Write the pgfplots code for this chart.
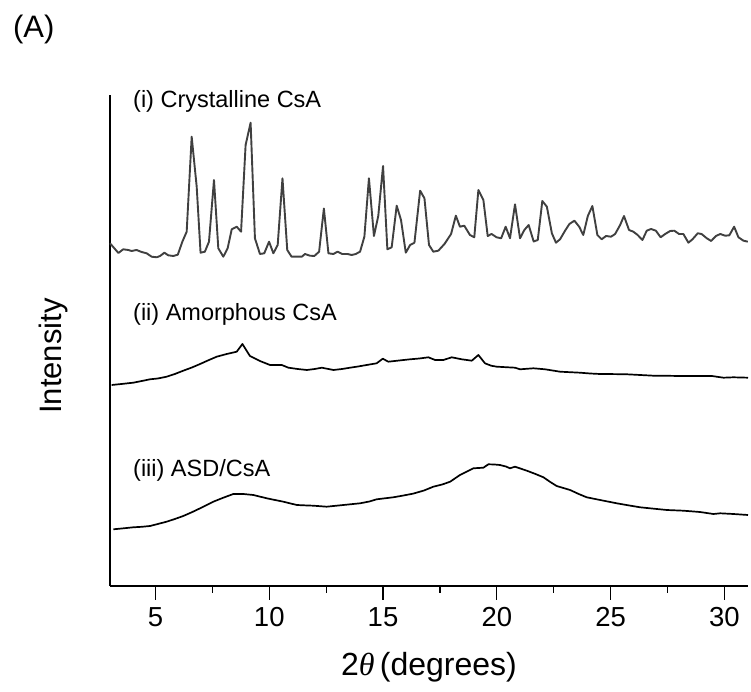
\documentclass[border=0pt]{standalone}
\usepackage{pgfplots}
\pgfplotsset{compat=1.18}
\usepackage{fontspec}
\setmainfont{Liberation Sans}
\newfontfamily\thetafont{Liberation Serif}
\begin{document}
\begin{tikzpicture}[x=1pt,y=1pt]
\useasboundingbox (-110,-106) rectangle (641,586);
\begin{axis}[
  at={(0,0)}, anchor=south west,
  scale only axis, width=638pt, height=491pt,
  xmin=3, xmax=31.04, ymin=0, ymax=491,
  axis x line*=bottom, axis y line*=left,
  axis line style={-, line width=1.3pt, black},
  xtick={5,10,15,20,25,30},
  minor x tick num=1,
  ytick=\empty,
  tick align=outside,
  major tick length=14pt, minor tick length=7pt,
  every tick/.style={line width=1.3pt, black},
  tick label style={font=\fontsize{27.5}{32}\selectfont},
  xticklabel style={yshift=-4pt},
  /pgf/number format/assume math mode=true,
  clip=false,
]
\addplot[line width=1.9pt, color=black!75, line join=round] coordinates {
(3.00,342.7)(3.37,333)(3.58,336.7)(3.80,336)(3.95,335)(4.17,336)(4.39,334)(4.61,332.7)
(4.83,329.3)(5.05,328.7)(5.20,330)(5.39,333.3)(5.56,330.7)(5.78,330)(5.98,331.3)(6.18,344.3)
(6.37,354.3)(6.59,449.3)(6.81,399.3)(6.98,333.3)(7.17,334.3)(7.35,344.3)(7.57,406)(7.76,337.7)
(7.98,329.3)(8.17,337.7)(8.35,356.7)(8.57,359.3)(8.76,354.3)(8.96,441)(9.18,463.3)(9.37,347.7)
(9.59,332)(9.78,332.7)(9.99,344.3)(10.18,332.7)(10.37,341)(10.58,407.7)(10.79,336)(10.98,329.3)
(11.20,329.3)(11.43,329.3)(11.57,332)(11.79,330.3)(11.98,330)(12.19,334.3)(12.40,377.5)(12.60,332.7)
(12.82,332)(13.00,334.3)(13.21,332)(13.44,332)(13.62,331)(13.80,332)(13.99,334.3)(14.18,349.3)
(14.38,407.7)(14.60,350)(14.79,370)(15.00,420)(15.19,336.7)(15.38,338.7)(15.60,380.3)(15.79,366)
(16.00,333.3)(16.19,341)(16.38,343.3)(16.63,395.3)(16.82,387.7)(17.02,341)(17.21,334.3)(17.43,335.3)
(17.70,342)(17.99,352)(18.20,370.3)(18.38,359.3)(18.57,360.3)(18.82,351)(19.01,348.7)(19.19,396)
(19.41,386)(19.60,350)(19.77,352)(19.99,348.7)(20.19,347.7)(20.39,359.3)(20.58,347.7)(20.80,381.7)
(21.02,347.7)(21.21,356)(21.40,361)(21.62,344.5)(21.80,346)(22.00,385)(22.20,379.3)(22.42,352.7)
(22.60,343.3)(22.78,346.7)(23.00,355.3)(23.19,362)(23.41,365.3)(23.62,359.3)(23.80,351)(24.00,370)
(24.20,380)(24.42,351)(24.61,346.7)(24.80,350)(25.02,349.3)(25.20,352)(25.42,361)(25.59,370)
(25.81,356)(26.00,354.3)(26.19,351)(26.40,346)(26.59,355.3)(26.78,357)(26.99,355.3)(27.20,348.7)
(27.40,352)(27.62,355)(27.80,355.3)(28.01,352)(28.20,352)(28.42,343.3)(28.60,346.7)(28.83,352.7)
(29.00,352)(29.23,347.7)(29.42,345)(29.63,350)(29.82,352)(30.04,350.3)(30.22,350.7)(30.43,359.3)
(30.62,348.7)(30.84,345.3)(31.03,344.3)
};
\addplot[line width=1.7pt, black, line join=round] coordinates {
(3.07,201)(3.5,202)(4.02,203.3)(4.4,205)(4.76,206.7)(5.1,207.5)(5.49,209.3)(5.85,212)(6.22,215.3)
(6.6,218.5)(6.96,222)(7.3,225.5)(7.69,229.3)(8.13,232)(8.57,234.3)(8.82,242)(9.15,230)(9.59,225)
(10.03,221)(10.55,221)(10.84,218.3)(11.25,217)(11.65,216)(12.0,217)(12.31,218.3)(12.82,216)
(13.2,217)(13.55,218.3)(13.9,219.5)(14.28,221)(14.72,222.7)(14.99,227.3)(15.23,224.3)(15.75,225.6)
(16.19,226.7)(16.6,227.5)(16.99,228.7)(17.29,226)(17.65,226)(18.02,228.7)(18.46,226.7)(18.90,225.3)
(19.19,231)(19.48,222.7)(19.75,220.3)(20.0,219.3)(20.40,218.8)(20.80,218.3)(21.02,216.7)(21.61,217.7)
(22.12,216.7)(22.78,214.3)(23.22,213.8)(23.66,213.3)(24.1,212.5)(24.54,212)(25.1,211.9)(25.71,211.7)
(26.3,211)(26.88,210.3)(27.5,210.2)(28.05,210)(28.7,210)(29.45,210)(29.96,208.3)(30.40,208.7)(31.04,208.3)
};
\addplot[line width=1.7pt, black, line join=round] coordinates {
(3.15,56.7)(3.6,57.7)(4.02,58.7)(4.4,59.2)(4.76,60)(5.1,62)(5.49,64.3)(5.85,67)(6.22,70)(6.6,73.8)
(6.96,77.7)(7.54,84.3)(7.98,88.3)(8.42,92)(8.86,92)(9.30,91)(9.89,87.7)(10.25,86)(10.62,84.3)
(11.21,81)(11.6,80.6)(11.94,80.3)(12.52,79.3)(13.26,81)(13.99,82.7)(14.4,84.5)(14.72,86.7)(15.45,88.7)
(15.9,90.5)(16.33,92.4)(16.8,95.5)(17.21,99.3)(17.6,101.5)(17.95,104.3)(18.38,111)(18.97,117.7)
(19.41,118.3)(19.63,121.7)(19.9,121.5)(20.14,121)(20.4,119.5)(20.58,117.7)(20.80,119.3)(21.32,115.3)
(21.7,112)(22.05,108.7)(22.35,104)(22.63,100)(23.22,96)(23.6,92)(23.95,88.7)(24.54,86)(25.27,82.7)
(25.8,80.6)(26.30,78.7)(26.9,77.3)(27.47,76)(28.20,75.3)(28.93,74)(29.52,72)(29.82,72.7)(30.40,72)(31.04,71)
};
\node[anchor=base west, font=\fontsize{23.5}{28}\selectfont, inner sep=0pt] at (axis cs:4.01,478) {(i) Crystalline CsA};
\node[anchor=base west, font=\fontsize{23.5}{28}\selectfont, inner sep=0pt] at (axis cs:4.01,265) {(ii) Amorphous CsA};
\node[anchor=base west, font=\fontsize{23.5}{28}\selectfont, inner sep=0pt] at (axis cs:4.01,109) {(iii) ASD/CsA};
\node[rotate=90, font=\fontsize{31}{36}\selectfont, inner sep=0pt] at (axis cs:0.495,230) {Intensity};
\node[font=\fontsize{32}{38}\selectfont, inner sep=0pt] at (axis cs:17.02,-81) {2{\thetafont\itshape θ}\,(degrees)};
\node[font=\fontsize{31}{36}\selectfont, inner sep=0pt] at (axis cs:-0.35,557) {(A)};
\end{axis}
\end{tikzpicture}
\end{document}
